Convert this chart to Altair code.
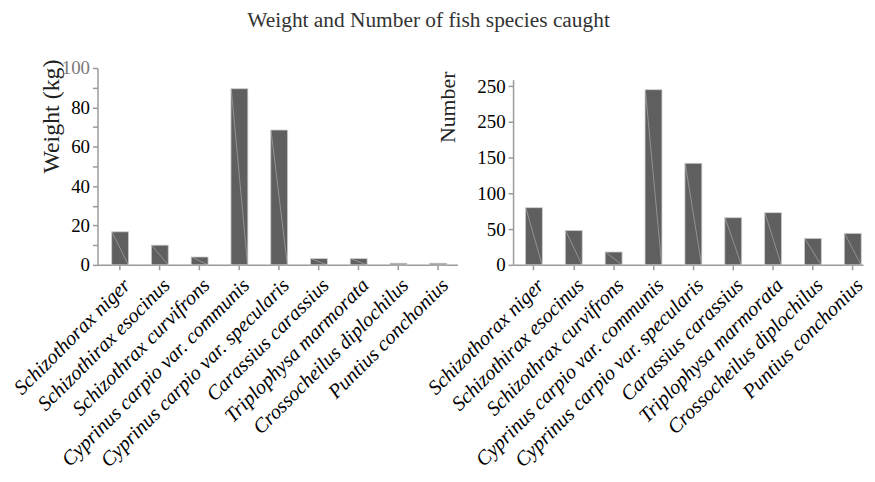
import altair as alt
import pandas as pd

species = [
    "Schizothorax niger",
    "Schizothirax esocinus",
    "Schizothrax curvifrons",
    "Cyprinus carpio var. communis",
    "Cyprinus carpio var. specularis",
    "Carassius carassius",
    "Triplophysa marmorata",
    "Crossocheilus diplochilus",
    "Puntius conchonius",
]
weight_kg = [16.8, 10.0, 4.0, 89.5, 68.5, 3.2, 3.2, 0.8, 0.8]
number_caught = [80, 48, 18, 245, 142, 66, 73, 37, 44]

weight_ticks = [0, 10, 20, 30, 40, 50, 60, 70, 80, 90, 100]
number_ticks = [0, 50, 100, 150, 200, 250]

df = pd.DataFrame({"species": species, "weight": weight_kg, "number": number_caught})

FONT = "Liberation Serif"
BAR = "#5f5f5f"
AX = "#9a9a9a"


def xaxis():
    return alt.Axis(
        title=None, labelAngle=-45, labelFontStyle="italic", labelFontSize=20.5,
        labelColor="black", labelFont=FONT, tickSize=5, labelPadding=5,
        labelLimit=0, labelOverlap=False,
    )


def panel(field, width, scale_y, axis_y, x_scale):
    x = alt.X("species:N", sort=species, axis=xaxis(), scale=x_scale)
    y = alt.Y(f"{field}:Q", scale=scale_y, axis=axis_y)
    bars = alt.Chart(df).mark_bar(color=BAR, stroke="#cfcfcf", strokeWidth=0.8).encode(
        x=x,
        y=y,
    )
    diag = alt.Chart(df).mark_rule(color="#b5b5b5", strokeWidth=0.6, xOffset=-8.2, x2Offset=8.2).encode(
        x=x,
        x2="species:N",
        y=y,
        y2=alt.datum(0),
    )
    return alt.layer(bars, diag).properties(width=width, height=198)


left_axis = alt.Axis(
    title="Weight (kg)", values=weight_ticks,
    labelExpr="datum.value % 20 == 0 ? datum.label : ''",
    labelColor={"condition": {"test": "datum.value == 100", "value": "#7a7a7a"}, "value": "black"},
    titleAnchor="end", titleY=-9, titleX=-39, titleBaseline="alphabetic",
    titleFontSize=24, titleFont=FONT, titleFontWeight="normal", titleColor="#222",
    labelFontSize=19, labelFont=FONT, tickSize=5, labelPadding=3, grid=False,
    labelOverlap=False, labelLimit=0,
)
right_axis = alt.Axis(
    title="Number", values=number_ticks,
    labelExpr="datum.value == 200 ? '250' : datum.label",
    titleAnchor="end", titleY=3, titleX=-59, titleBaseline="alphabetic",
    titleFontSize=22, titleFont=FONT, titleFontWeight="normal", titleColor="#222",
    labelFontSize=19, labelFont=FONT, labelColor="black", tickSize=5, labelPadding=3, grid=False,
    labelOverlap=False, labelLimit=0,
)

left = panel(
    "weight", 362,
    alt.Scale(domain=[0, 100], nice=False),
    left_axis,
    alt.Scale(paddingInner=0.575, paddingOuter=0.3125, align=0.57),
)
right = panel(
    "number", 352,
    alt.Scale(domain=[0, 259], nice=False, range=[198, 11.7]),
    right_axis,
    alt.Scale(paddingInner=0.575, paddingOuter=0.1776, align=0.876),
)

chart = alt.hconcat(left, right, spacing=56, bounds="flush").properties(
    title=alt.TitleParams(
        "Weight and Number of fish species caught", fontSize=21.5, font=FONT,
        fontWeight="normal", color="#333", offset=28, anchor="middle", dx=-10,
    ),
    padding={"left": 2, "top": 0, "right": 0, "bottom": 0},
).configure_view(stroke=None).configure_axis(
    domainColor=AX, tickColor=AX, domainWidth=1.5, tickWidth=1.5, labelOverlap=False,
)

chart.save("out.html", embed_options={"renderer": "svg", "actions": False})
